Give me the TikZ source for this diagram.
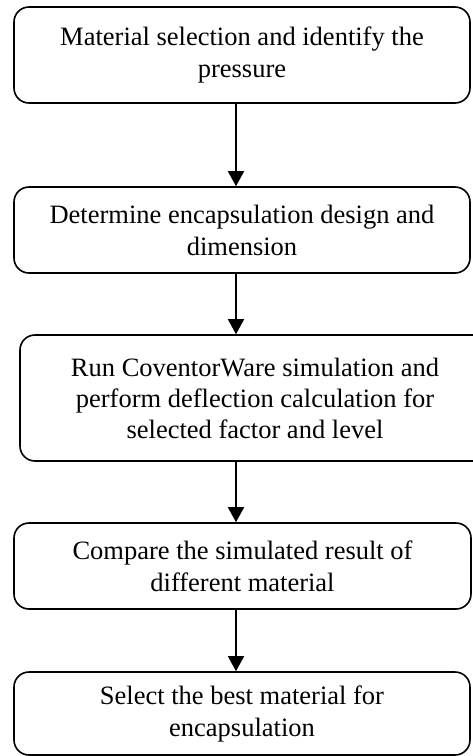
\documentclass[tikz,border=0pt]{standalone}
\usepackage{fontspec}
\setmainfont{Liberation Serif}
\usetikzlibrary{arrows.meta}
\tikzset{
  stepbox/.style={draw, line width=1.6pt, rounded corners=15pt, align=center,
    font=\fontsize{26.5}{31}\selectfont, inner sep=0pt},
  flow/.style={line width=1.6pt, -{Triangle[length=15pt,width=16pt]}}
}
\begin{document}
\begin{tikzpicture}[x=1pt, y=-1pt]
  \useasboundingbox (0,0) rectangle (473,756);

  \node[stepbox, minimum width=456pt, minimum height=96pt] (b1) at (242,55)
    {Material selection and identify the\\[1pt]pressure};
  \node[stepbox, minimum width=456pt, minimum height=86pt] (b2) at (242,230)
    {Determine encapsulation design and\\[1pt]dimension};
  \node[stepbox, minimum width=470pt, minimum height=126pt] (b3) at (255,398)
    {Run CoventorWare simulation and\\perform deflection calculation for\\selected factor and level};
  \node[stepbox, minimum width=457pt, minimum height=86pt] (b4) at (242.5,566)
    {Compare the simulated result of\\[1pt]different material};
  \node[stepbox, minimum width=456pt, minimum height=83pt] (b5) at (242,713.5)
    {Select the best material for\\[1pt]encapsulation};

  % vertical line carrying the connectors
  \coordinate (ax) at (236,0);
  \draw[flow] (b1.south -| ax) -- (b2.north -| ax);
  \draw[flow] (b2.south -| ax) -- (b3.north -| ax);
  \draw[flow] (b3.south -| ax) -- (b4.north -| ax);
  \draw[flow] (b4.south -| ax) -- (b5.north -| ax);
\end{tikzpicture}
\end{document}
